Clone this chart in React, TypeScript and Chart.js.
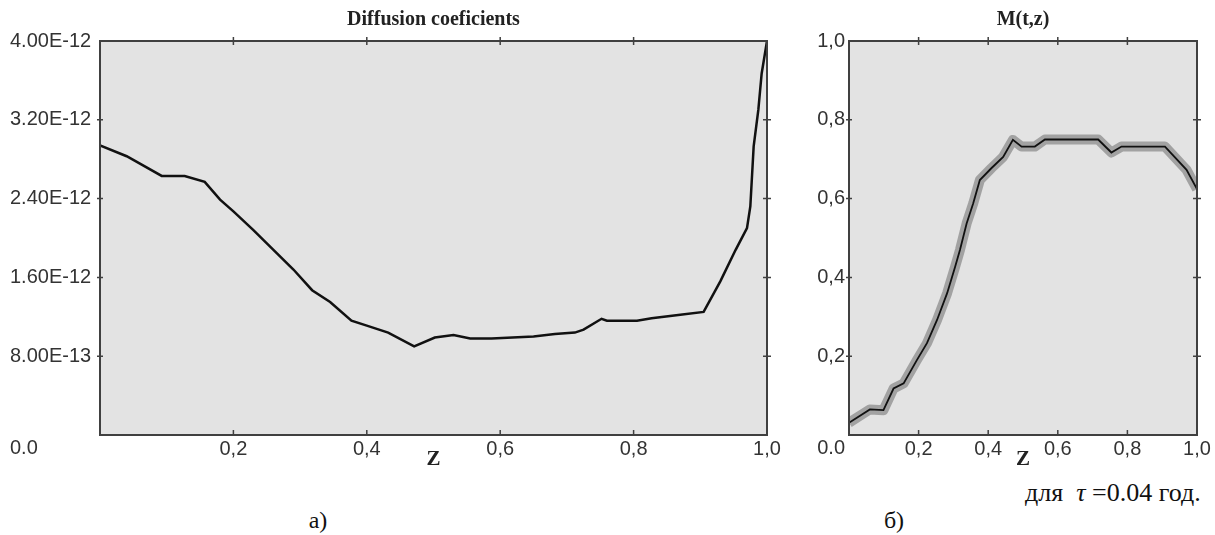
import { useEffect, useRef } from 'react';
import { Chart, ChartConfiguration, registerables } from 'chart.js';

Chart.register(...registerables);

// Diffusion coefficient along z
const zDiff = [0, 0.04, 0.0925, 0.127, 0.157, 0.18, 0.2, 0.23, 0.26, 0.29, 0.318, 0.345, 0.377, 0.4, 0.432, 0.471, 0.502, 0.53, 0.555, 0.587, 0.65, 0.682, 0.712, 0.725, 0.752, 0.76, 0.805, 0.827, 0.87, 0.905, 0.93, 0.953, 0.97, 0.975, 0.98, 0.987, 0.992, 1.0];
const diffValues = [2.94e-12, 2.83e-12, 2.63e-12, 2.63e-12, 2.57e-12, 2.39e-12, 2.27e-12, 2.08e-12, 1.88e-12, 1.68e-12, 1.47e-12, 1.35e-12, 1.16e-12, 1.11e-12, 1.04e-12, 0.9e-12, 0.99e-12, 1.015e-12, 0.98e-12, 0.98e-12, 1.0e-12, 1.025e-12, 1.04e-12, 1.07e-12, 1.18e-12, 1.16e-12, 1.16e-12, 1.185e-12, 1.22e-12, 1.25e-12, 1.56e-12, 1.88e-12, 2.1e-12, 2.32e-12, 2.93e-12, 3.3e-12, 3.67e-12, 4.0e-12];

// M(t,z) profile
const zM = [0, 0.06, 0.099, 0.128, 0.157, 0.195, 0.224, 0.253, 0.282, 0.305, 0.319, 0.338, 0.357, 0.376, 0.409, 0.443, 0.471, 0.496, 0.534, 0.563, 0.716, 0.754, 0.783, 0.908, 0.97, 1.0];
const mValues = [0.031, 0.065, 0.063, 0.118, 0.131, 0.19, 0.233, 0.292, 0.36, 0.427, 0.47, 0.537, 0.588, 0.647, 0.677, 0.706, 0.749, 0.732, 0.732, 0.75, 0.75, 0.717, 0.732, 0.732, 0.673, 0.624];

// Axis ticks
const zTicks = [0, 0.2, 0.4, 0.6, 0.8, 1.0];
const zTickLabels = ['', '0,2', '0,4', '0,6', '0,8', '1,0'];
const diffTicks = [0, 0.8e-12, 1.6e-12, 2.4e-12, 3.2e-12, 4.0e-12];
const diffTickLabels = ['0.0', '8.00E-13', '1.60E-12', '2.40E-12', '3.20E-12', '4.00E-12'];
const mTicks = [0, 0.2, 0.4, 0.6, 0.8, 1.0];
const mTickLabels = ['0.0', '0,2', '0,4', '0,6', '0,8', '1,0'];

const SANS = '"Liberation Sans", Arial, sans-serif';
const SERIF = '"Liberation Serif", "Times New Roman", serif';

// grey plot area, dark frame and ticks crossing the frame
const framePlugin = {
  id: 'frame',
  beforeDatasetsDraw(chart: Chart) {
    const { ctx, chartArea: a } = chart;
    ctx.save();
    ctx.fillStyle = '#e3e3e3';
    ctx.fillRect(a.left, a.top, a.right - a.left, a.bottom - a.top);
    ctx.restore();
  },
  afterDatasetsDraw(chart: Chart) {
    const { ctx, chartArea: a, scales } = chart;
    ctx.save();
    ctx.strokeStyle = '#404040';
    ctx.lineWidth = 2;
    ctx.strokeRect(a.left, a.top, a.right - a.left, a.bottom - a.top);
    ctx.lineWidth = 1.5;
    ctx.beginPath();
    scales.x.ticks.forEach(t => {
      const px = scales.x.getPixelForValue(t.value);
      if (px <= a.left + 1 || px >= a.right - 1) return;
      ctx.moveTo(px, a.top - 4);
      ctx.lineTo(px, a.top + 4);
      ctx.moveTo(px, a.bottom - 5);
      ctx.lineTo(px, a.bottom + 1);
    });
    scales.y.ticks.forEach(t => {
      const py = scales.y.getPixelForValue(t.value);
      if (py <= a.top + 1 || py >= a.bottom - 1) return;
      ctx.moveTo(a.left - 3, py);
      ctx.lineTo(a.left + 3, py);
      ctx.moveTo(a.right - 4, py);
      ctx.lineTo(a.right + 4, py);
    });
    ctx.stroke();
    ctx.restore();
  }
};

const makeConfig = (
  title: string,
  datasets: any[],
  yTicks: number[],
  yLabels: string[],
  yMax: number,
  yWidth: number,
  yAlign: 'near' | 'far',
  pad: { left: number; right: number }
): ChartConfiguration => ({
  type: 'line',
  data: { datasets },
  options: {
    responsive: false,
    animation: false,
    layout: { padding: { left: pad.left, right: pad.right, top: 0, bottom: 0 } },
    plugins: {
      legend: { display: false },
      tooltip: { enabled: false },
      title: {
        display: true,
        fullSize: false,
        text: title,
        color: '#222',
        font: { family: SERIF, size: 20, weight: 'bold' },
        padding: { top: 8, bottom: 9 }
      }
    },
    scales: {
      x: {
        type: 'linear',
        min: 0,
        max: 1,
        afterBuildTicks: (s: any) => { s.ticks = zTicks.map(v => ({ value: v })); },
        afterFit: (s: any) => { s.height = 37; },
        grid: { display: false, drawTicks: false },
        border: { display: false },
        ticks: {
          color: '#333',
          padding: 2,
          maxRotation: 0,
          font: { family: SANS, size: 20 },
          callback: (_v: any, i: number) => zTickLabels[i]
        },
        title: {
          display: true,
          text: 'Z',
          color: '#222',
          font: { family: SERIF, size: 21, weight: 'bold' },
          padding: { top: 0, bottom: 0 }
        }
      },
      y: {
        type: 'linear',
        min: 0,
        max: yMax,
        afterBuildTicks: (s: any) => { s.ticks = yTicks.map(v => ({ value: v })); },
        afterFit: (s: any) => { s.width = yWidth; s.paddingTop = 0; s.paddingBottom = 0; },
        grid: { display: false, drawTicks: false },
        border: { display: false },
        ticks: {
          color: '#333',
          padding: 4,
          crossAlign: yAlign,
          font: { family: SANS, size: 20, lineHeight: 1.35 },
          callback: (_v: any, i: number) => (i === 0 ? ['', yLabels[i]] : yLabels[i])
        }
      }
    }
  },
  plugins: [framePlugin]
});

const ChartCanvas = ({ config, width, height }: { config: () => ChartConfiguration; width: number; height: number }) => {
  const canvasRef = useRef<HTMLCanvasElement>(null);

  useEffect(() => {
    if (!canvasRef.current) return;
    const chart = new Chart(canvasRef.current, config());
    return () => chart.destroy();
  }, []);

  return <canvas ref={canvasRef} width={width} height={height} style={{ width, height, display: 'block' }} />;
};

const diffConfig = () =>
  makeConfig(
    'Diffusion coeficients',
    [
      {
        data: zDiff.map((z, i) => ({ x: z, y: diffValues[i] })),
        borderColor: '#111',
        borderWidth: 2.5,
        pointRadius: 0,
        tension: 0
      }
    ],
    diffTicks,
    diffTickLabels,
    4.0e-12,
    90,
    'far',
    { left: 10, right: 33 }
  );

const mConfig = () =>
  makeConfig(
    'M(t,z)',
    [
      {
        data: zM.map((z, i) => ({ x: z, y: mValues[i] })),
        borderColor: '#111',
        borderWidth: 1.8,
        pointRadius: 0,
        tension: 0
      },
      {
        data: zM.map((z, i) => ({ x: z, y: mValues[i] })),
        borderColor: '#a2a2a2',
        borderWidth: 10,
        borderJoinStyle: 'round',
        pointRadius: 0,
        tension: 0
      }
    ],
    mTicks,
    mTickLabels,
    1.0,
    49,
    'near',
    { left: 0, right: 18 }
  );

const labelStyle: React.CSSProperties = {
  position: 'absolute',
  fontFamily: SERIF,
  fontSize: 24,
  lineHeight: '24px',
  color: '#111',
  whiteSpace: 'pre'
};

export default function App() {
  return (
    <div style={{ position: 'fixed', left: 0, top: 0, width: 1215, height: 535, background: '#fff', overflow: 'hidden' }}>
      <div style={{ position: 'absolute', left: 0, top: 0 }}>
        <ChartCanvas config={diffConfig} width={800} height={472} />
      </div>
      <div style={{ position: 'absolute', left: 800, top: 0 }}>
        <ChartCanvas config={mConfig} width={415} height={472} />
      </div>
      <div style={{ ...labelStyle, left: 318, top: 508, transform: 'translateX(-50%)' }}>а)</div>
      <div style={{ ...labelStyle, left: 894, top: 508, transform: 'translateX(-50%)' }}>б)</div>
      <div style={{ ...labelStyle, left: 1025, top: 481, fontSize: 26 }}>
        {'для  '}
        <span style={{ fontStyle: 'italic' }}>τ</span>
        {' =0.04 год.'}
      </div>
    </div>
  );
}
